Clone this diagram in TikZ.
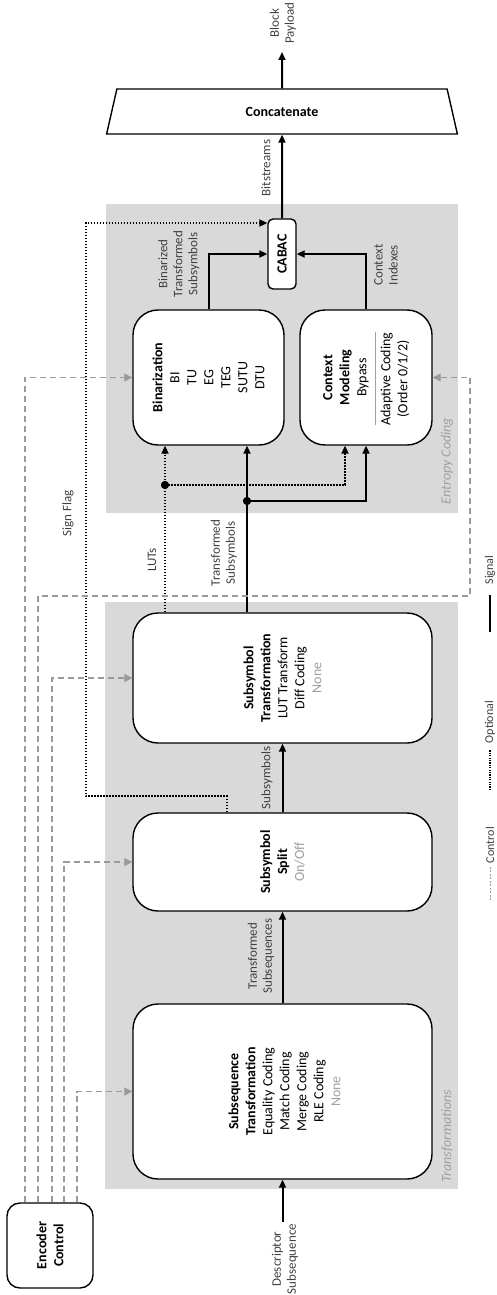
\documentclass[tikz,border=0pt]{standalone}
\usepackage{fontspec}
\setmainfont{Carlito}
\usetikzlibrary{arrows.meta,shapes.geometric}
\definecolor{panel}{HTML}{D9D9D9}
\definecolor{ctrlgray}{HTML}{9A9A9A}
\definecolor{lblgray}{HTML}{404040}
\definecolor{optgray}{HTML}{A0A0A0}
\begin{document}
\begin{tikzpicture}[x=1pt,y=-1pt,
  panelbox/.style={fill=panel, draw=none, inner sep=0pt},
  box/.style={draw=black, line width=1.4pt, fill=white, rounded corners=25pt, inner sep=0pt},
  txt/.style={rotate=90, align=center, font=\fontsize{14}{17}\selectfont, inner sep=0pt},
  lbl/.style={rotate=90, align=center, font=\fontsize{13}{15}\selectfont, text=lblgray, inner sep=0pt},
  grp/.style={rotate=90, font=\itshape\fontsize{14}{17}\selectfont, text=optgray, inner sep=0pt},
  leg/.style={rotate=90, font=\fontsize{12}{14}\selectfont, text=lblgray, inner sep=0pt},
  sig/.style={line width=2pt, -{Triangle[length=8pt,width=7pt]}},
  opt/.style={line width=2pt, dash pattern=on 1.6pt off 1.4pt, -{Triangle[length=8pt,width=7pt]}},
  ctl/.style={line width=1.3pt, draw=ctrlgray, dash pattern=on 6pt off 4pt, -{Triangle[length=8pt,width=8pt,fill=ctrlgray]}},
  junc/.style={circle, fill=black, inner sep=0pt, minimum size=8pt},
]
\path[use as bounding box] (0,0) rectangle (496,1295);

% panels
\node[panelbox, minimum width=353pt, minimum height=587pt] (ptr) at (281.5,895.5) {};
\node[panelbox, minimum width=352pt, minimum height=309pt] (pent) at (282,358.5) {};
\node[grp] (ptrT) at (447,1136) {Transformations};
\node[grp] (pentT) at (447,461) {Entropy Coding};

% boxes
\node[box, minimum width=299pt, minimum height=175pt] (seq) at (282.5,1091.5) {};
\node[box, minimum width=299pt, minimum height=98pt] (split) at (282.5,862) {};
\node[box, minimum width=299pt, minimum height=130pt] (symt) at (282.5,678) {};
\node[box, minimum width=151pt, minimum height=135pt] (bin) at (208.5,377.5) {};
\node[box, minimum width=132pt, minimum height=135pt] (ctx) at (366,377.5) {};
\node[box, rounded corners=5pt, minimum width=28pt, minimum height=70pt] (cabac) at (282,254) {};
\node[box, rounded corners=13pt, minimum width=86pt, minimum height=85pt] (enc) at (50,1245.5) {};
\node[draw=black, line width=1.4pt, fill=white, trapezium, trapezium angle=76.3, trapezium stretches=true,
      minimum width=352pt, minimum height=45pt, inner sep=0pt,
      font=\bfseries\fontsize{14}{17}\selectfont] (conc) at (282,111.5) {Concatenate};

% box texts
\node[txt] (encT) at (enc) {\textbf{Encoder}\\\textbf{Control}};
\node[txt] (seqT) at (284.5,1091.5) {\textbf{Subsequence}\\\textbf{Transformation}\\Equality Coding\\Match Coding\\Merge Coding\\RLE Coding\\\textcolor{optgray}{None}};
\node[txt] (splitT) at (split) {\textbf{Subsymbol}\\\textbf{Split}\\\textcolor{optgray}{On/Off}};
\node[txt] (symtT) at (symt) {\textbf{Subsymbol}\\\textbf{Transformation}\\LUT Transform\\Diff Coding\\\textcolor{optgray}{None}};
\node[txt] (binT) at (bin) {\textbf{Binarization}\\BI\\TU\\EG\\TEG\\SUTU\\DTU};
\node[txt] (ctxT1) at (346,377.5) {\textbf{Context}\\\textbf{Modeling}\\Bypass};
\node[txt] (ctxT2) at (395,379) {Adaptive Coding\\(Order 0/1/2)};
\draw[optgray, line width=0.8pt] (375,332) -- (375,425);
\node[txt] (cabacT) at (cabac) {\textbf{CABAC}};

% signal connectors
\coordinate (dsc) at (282.5,1222);
\coordinate (out) at (282,52);
\draw[sig] (dsc) -- (seq.south);
\draw[sig] (seq) -- (split);
\draw[sig] (split) -- (symt);
\draw[sig] ([xshift=-35.5pt]symt.north) -- ([xshift=-35.5pt]symt.north |- bin.south);
\node[junc] (j1) at (247,501) {};
\draw[sig] (j1.center) -| (ctx.south);
\draw[sig] (bin.north) |- (cabac.west);
\draw[sig] (ctx.north) |- (cabac.east);
\draw[sig] (cabac.north) -- (conc.south);
\draw[sig] (conc.north) -- (out);

% optional connectors
\draw[opt] ([xshift=-117.5pt]symt.north) -- ([xshift=-117.5pt]symt.north |- bin.south);
\node[junc] (j2) at (165,485) {};
\draw[opt] (j2.center) -| ([xshift=-21pt]ctx.south);
\draw[opt] ([xshift=-55.5pt]split.north) -- ++(0,-16) -- ++(-141,0) |- ([yshift=31pt]cabac.west);
\node[junc] at (j1) {};
\node[junc] at (j2) {};

% control connectors
\coordinate (c2r) at (470,596);
\draw[ctl] ([xshift=-25pt]enc.north) |- (bin.west);
\draw[ctl] ([xshift=-12pt]enc.north) |- (c2r) |- (ctx.east);
\draw[ctl] ([xshift=2pt]enc.north) |- (symt.west);
\draw[ctl] ([xshift=14pt]enc.north) |- (split.west);
\draw[ctl] ([xshift=27pt]enc.north) |- (seq.west);

% labels
\node[lbl] (lBP) at (283,23) {Block\\Payload};
\node[lbl] (lBS) at (266,168) {Bitstreams};
\node[lbl] (lBTS) at (179,264) {Binarized\\Transformed\\Subsymbols};
\node[lbl] (lCI) at (386,265) {Context\\Indexes};
\node[lbl] (lSF) at (68,513) {Sign Flag};
\node[lbl] (lLUT) at (152,560) {LUTs};
\node[lbl] (lTSy) at (224,553) {Transformed\\Subsymbols};
\node[lbl] (lSy) at (267,778) {Subsymbols};
\node[lbl] (lTSe) at (261,956) {Transformed\\Subsequences};
\node[lbl] (lDS) at (285,1259) {Descriptor\\Subsequence};

% legend
\node[leg] (legC) at (490,845) {Control};
\coordinate (legC1) at (490,900);
\coordinate (legC2) at (490,866);
\draw[ctrlgray, line width=0.8pt, dash pattern=on 2pt off 1.5pt] (legC1) -- (legC2);
\node[leg] (legO) at (490,722) {Optional};
\coordinate (legO1) at (490,790);
\coordinate (legO2) at (490,750);
\draw[line width=1.6pt, dash pattern=on 1.2pt off 1.2pt] (legO1) -- (legO2);
\node[leg] (legS) at (490,570) {Signal};
\coordinate (legS1) at (490,632);
\coordinate (legS2) at (490,595);
\draw[line width=1.6pt] (legS1) -- (legS2);
\end{tikzpicture}
\end{document}
